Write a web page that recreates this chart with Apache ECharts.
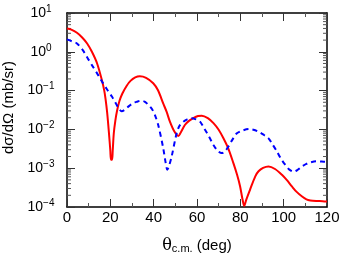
<!DOCTYPE html>
<html>
<head>
<meta charset="utf-8">
<script src="https://cdn.jsdelivr.net/npm/echarts@6/dist/echarts.min.js"></script>
<style>
html,body{margin:0;padding:0;background:#fff;}
#c{width:345px;height:262px;}
</style>
</head>
<body>
<div id="c"></div>
<script>
// Red solid curve: angle (deg) and cross section (mb/sr)
var redTheta = [0, 2, 4.6, 7, 9.3, 11.5, 13.9, 16.2, 17.2, 17.8, 18.5, 19.3, 20.0, 20.3, 20.8, 21.1, 21.6, 22.3, 23.1, 24.2, 25.5, 27.5, 29.3, 31.5, 33.6, 36.5, 39.8, 42, 44.4, 46, 47.5, 49.5, 51.4, 52.5, 54.4, 56.3, 58.3, 60.5, 62.2, 65, 67.6, 70, 72.2, 74.5, 76.8, 78.5, 79.9, 81, 81.8, 82.8, 84.5, 86.9, 88.4, 90.5, 93, 96, 99.2, 101.5, 103.8, 106, 108.5, 110.5, 112.3, 115, 118, 120];
var redSigma = [3.98, 3.72, 3.09, 2.34, 1.64, 1.0, 0.50, 0.178, 0.100, 0.0603, 0.0282, 0.00891, 0.00282, 0.00166, 0.00166, 0.00282, 0.00794, 0.0166, 0.0302, 0.0537, 0.0832, 0.132, 0.178, 0.219, 0.234, 0.214, 0.155, 0.102, 0.0468, 0.0282, 0.0158, 0.00891, 0.00676, 0.00832, 0.0130, 0.0166, 0.0195, 0.0221, 0.0226, 0.0195, 0.0145, 0.00977, 0.00589, 0.00316, 0.00135, 0.000676, 0.000339, 0.000158, 0.000107, 0.000158, 0.000282, 0.000617, 0.000832, 0.00102, 0.00111, 0.000955, 0.000676, 0.000490, 0.000339, 0.000245, 0.000186, 0.000158, 0.000148, 0.000143, 0.000141, 0.000138];
// Blue dashed curve
var blueTheta = [0, 2.3, 4.6, 7.3, 9.6, 11.8, 13.9, 16.2, 18.5, 20.8, 22.7, 24, 25.2, 26.5, 28.6, 30.5, 32.1, 34, 36, 39, 40.5, 42.1, 44.4, 45.5, 46.3, 47.2, 48.3, 50.6, 52, 53.7, 55.5, 57.6, 59.5, 61.4, 63.7, 65.5, 67.6, 69.5, 71.4, 73, 74.5, 76.5, 78.4, 81, 84, 86, 88.4, 90.5, 93, 94.8, 96.9, 98.8, 100.7, 102.5, 104.6, 106.5, 108.5, 110.5, 112.3, 115, 117.5, 120];
var blueSigma = [2.09, 1.86, 1.64, 1.10, 0.676, 0.427, 0.278, 0.170, 0.107, 0.0692, 0.0452, 0.0339, 0.0295, 0.0316, 0.0398, 0.0479, 0.0513, 0.0550, 0.0513, 0.0347, 0.0240, 0.0130, 0.00331, 0.00141, 0.000912, 0.00120, 0.00200, 0.00794, 0.0126, 0.0158, 0.0182, 0.0195, 0.0182, 0.0158, 0.00977, 0.00661, 0.00398, 0.00282, 0.00245, 0.00275, 0.00363, 0.00562, 0.00794, 0.00933, 0.0102, 0.00977, 0.00871, 0.00741, 0.00589, 0.00417, 0.00269, 0.00174, 0.00123, 0.000933, 0.000813, 0.000912, 0.00111, 0.00129, 0.00141, 0.00151, 0.00148, 0.00145];
// Axis settings
var xTicks = [0, 20, 40, 60, 80, 100, 120];
var yDecades = [1e-4, 1e-3, 1e-2, 1e-1, 1, 10];
var minorMultipliers = [2, 3, 4, 5, 6, 7, 8, 9];

var minorVals = [];
for (var i = 0; i < yDecades.length - 1; i++) {
  for (var j = 0; j < minorMultipliers.length; j++) {
    minorVals.push([0, yDecades[i] * minorMultipliers[j]]);
  }
}
function pairs(xs, ys) { return xs.map(function (x, k) { return [x, ys[k]]; }); }

var font = 'Liberation Sans, Arial, sans-serif';
var chart = echarts.init(document.getElementById('c'), null, {renderer: 'canvas'});
var axisLine = {show: true, onZero: false, lineStyle: {color: '#000', width: 1.5}};
var xCommon = {
  type: 'value', min: xTicks[0], max: xTicks[xTicks.length - 1], interval: 20,
  axisLine: axisLine,
  axisTick: {inside: true, length: 8, lineStyle: {color: '#333', width: 1}},
  minorTick: {show: true, splitNumber: 2, length: 4, lineStyle: {color: '#555', width: 1}},
  splitLine: {show: false}, minorSplitLine: {show: false}
};
var yCommon = {
  type: 'log', logBase: 10, min: yDecades[0], max: yDecades[yDecades.length - 1],
  axisLine: axisLine,
  axisTick: {inside: true, length: 8, lineStyle: {color: '#333', width: 1}},
  splitLine: {show: false}
};
chart.setOption({
  animation: false,
  backgroundColor: '#fff',
  grid: {left: 67, right: 18, top: 13, bottom: 55, containLabel: false, outerBoundsMode: 'none'},
  xAxis: [
    Object.assign({}, xCommon, {
      position: 'bottom',
      axisLabel: {color: '#000', fontSize: 15, fontFamily: font, margin: 3},
      name: '{t|θ}{s|c.m.}{n| (deg)}',
      nameLocation: 'middle', nameGap: 30,
      nameTextStyle: {
        color: '#000', fontSize: 15, fontFamily: font,
        rich: {
          t: {fontSize: 16, fontFamily: 'DejaVu Serif, serif', color: '#000'},
          s: {fontSize: 11, fontFamily: font, color: '#000', padding: [6, 0, 0, 0]},
          n: {fontSize: 15, fontFamily: font, color: '#000'}
        }
      }
    }),
    Object.assign({}, xCommon, {position: 'top', axisLabel: {show: false}})
  ],
  yAxis: [
    Object.assign({}, yCommon, {
      position: 'left',
      axisLabel: {
        color: '#000', margin: 26, align: 'center',
        formatter: function (v) {
          var e = Math.round(Math.log10(v));
          return '{b|10}{e|' + (e < 0 ? '\u2212' + (-e) : e) + '}';
        },
        rich: {
          b: {fontSize: 14, fontFamily: font, color: '#000'},
          e: {fontSize: 10, fontFamily: font, color: '#000', padding: [0, 0, 8, 0]}
        }
      },
      name: 'dσ/dΩ (mb/sr)',
      nameLocation: 'middle', nameGap: 50, nameRotate: 90,
      nameTextStyle: {color: '#000', fontSize: 15, fontFamily: font, padding: [0, 0, 0, 5]}
    }),
    Object.assign({}, yCommon, {position: 'right', axisLabel: {show: false}})
  ],
  series: [
    {
      type: 'line', name: 'red', data: pairs(redTheta, redSigma),
      showSymbol: false, smooth: 0.3, clip: true,
      lineStyle: {color: '#ff0000', width: 2}
    },
    {
      type: 'line', name: 'blue', data: pairs(blueTheta, blueSigma),
      showSymbol: false, smooth: 0.3, clip: true,
      lineStyle: {color: '#0000ff', width: 2, type: [5, 4]}
    },
    {
      type: 'custom', name: 'minorTicks', data: minorVals, silent: true,
      renderItem: function (params, api) {
        var v = api.value(1);
        var l = api.coord([xTicks[0], v]);
        var r = api.coord([xTicks[xTicks.length - 1], v]);
        var st = {stroke: '#555', lineWidth: 1};
        return {
          type: 'group', children: [
            {type: 'line', shape: {x1: l[0], y1: l[1], x2: l[0] + 4, y2: l[1]}, style: st},
            {type: 'line', shape: {x1: r[0], y1: r[1], x2: r[0] - 4, y2: r[1]}, style: st}
          ]
        };
      }
    }
  ]
});
</script>
</body>
</html>
